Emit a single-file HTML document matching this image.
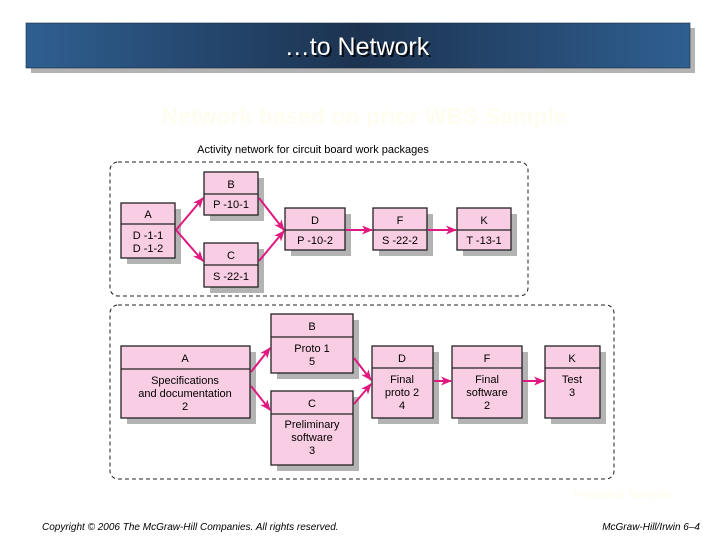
<!DOCTYPE html>
<html><head><meta charset="utf-8"><style>
body{margin:0;background:#fff;width:728px;height:546px;overflow:hidden;font-family:"Liberation Sans",sans-serif}
</style></head><body>
<svg width="728" height="546" viewBox="0 0 728 546" xmlns="http://www.w3.org/2000/svg" font-family="Liberation Sans, sans-serif">
<defs>
<linearGradient id="g" x1="0" x2="1" y1="0" y2="0">
<stop offset="0" stop-color="#2f5f91"/><stop offset="0.5" stop-color="#1c3350"/><stop offset="1" stop-color="#2f5f91"/>
</linearGradient>
<marker id="ar" markerWidth="11" markerHeight="9" refX="10" refY="4.5" orient="auto" markerUnits="userSpaceOnUse">
<path d="M0,0 L11,4.5 L0,9 L3,4.5 Z" fill="#e0187f"/></marker>
</defs>
<rect x="31" y="28" width="664" height="45" fill="#b3b3b3"/>
<rect x="26" y="23" width="664" height="45" fill="url(#g)" stroke="#1a2a40" stroke-width="0.6"/>
<text x="359" y="57" font-size="25" fill="#000" text-anchor="middle" opacity="0.8">…to Network</text>
<text x="357" y="55" font-size="25" fill="#fff" text-anchor="middle">…to Network</text>
<text x="364" y="124" font-size="23" font-weight="bold" fill="#fffdf0" text-anchor="middle">Network based on prior WBS Sample</text>
<text x="313" y="153" font-size="11" fill="#000" text-anchor="middle">Activity network for circuit board work packages</text>
<rect x="110" y="162" width="418" height="134" rx="8" fill="none" stroke="#222" stroke-dasharray="4,3"/>
<rect x="110" y="305" width="504" height="174" rx="8" fill="none" stroke="#222" stroke-dasharray="4,3"/>
<g fill="#b3b3b3">
<rect x="127" y="209" width="54" height="55"/><rect x="210" y="178" width="54" height="43"/><rect x="210" y="249" width="54" height="44"/>
<rect x="291" y="214" width="60" height="42"/><rect x="379" y="214" width="54" height="42"/><rect x="463" y="214" width="54" height="42"/>
<rect x="127" y="352" width="129" height="72"/><rect x="277" y="320" width="82" height="59"/><rect x="277" y="397" width="82" height="74"/>
<rect x="378" y="352" width="61" height="72"/><rect x="458" y="352" width="70" height="72"/><rect x="551" y="352" width="55" height="72"/>
</g>
<g fill="#f9cde3" stroke="#222" stroke-width="1.3">
<rect x="121" y="203" width="54" height="55"/><rect x="204" y="172" width="54" height="43"/><rect x="204" y="243" width="54" height="44"/>
<rect x="285" y="208" width="60" height="42"/><rect x="373" y="208" width="54" height="42"/><rect x="457" y="208" width="54" height="42"/>
<rect x="121" y="346" width="129" height="72"/><rect x="271" y="314" width="82" height="59"/><rect x="271" y="391" width="82" height="74"/>
<rect x="372" y="346" width="61" height="72"/><rect x="452" y="346" width="70" height="72"/><rect x="545" y="346" width="55" height="72"/>
</g>
<g stroke="#222" stroke-width="1.2">
<line x1="121" y1="224" x2="175" y2="224"/><line x1="204" y1="194" x2="258" y2="194"/><line x1="204" y1="265" x2="258" y2="265"/>
<line x1="285" y1="230" x2="345" y2="230"/><line x1="373" y1="230" x2="427" y2="230"/><line x1="457" y1="230" x2="511" y2="230"/>
<line x1="121" y1="369" x2="250" y2="369"/><line x1="271" y1="337" x2="353" y2="337"/><line x1="271" y1="414" x2="353" y2="414"/>
<line x1="372" y1="368" x2="433" y2="368"/><line x1="452" y1="368" x2="522" y2="368"/><line x1="545" y1="368" x2="600" y2="368"/>
</g>
<g stroke="#e0187f" stroke-width="2" fill="none" marker-end="url(#ar)">
<line x1="176" y1="230" x2="203" y2="198"/><line x1="176" y1="230" x2="203" y2="261"/>
<line x1="259" y1="198" x2="284" y2="230"/><line x1="259" y1="261" x2="284" y2="231"/>
<line x1="346" y1="230" x2="372" y2="230"/><line x1="428" y1="230" x2="456" y2="230"/>
<line x1="251" y1="372" x2="270" y2="348"/><line x1="251" y1="386" x2="270" y2="410"/>
<line x1="354" y1="358" x2="371" y2="380"/><line x1="354" y1="404" x2="371" y2="384"/>
<line x1="434" y1="381" x2="451" y2="381"/><line x1="523" y1="381" x2="544" y2="381"/>
</g>
<g font-size="11" fill="#000" text-anchor="middle">
<text x="148" y="218">A</text><text x="148" y="239">D -1-1</text><text x="148" y="252">D -1-2</text>
<text x="231" y="188">B</text><text x="231" y="208">P -10-1</text>
<text x="231" y="259">C</text><text x="231" y="280">S -22-1</text>
<text x="315" y="224">D</text><text x="315" y="244">P -10-2</text>
<text x="400" y="224">F</text><text x="400" y="244">S -22-2</text>
<text x="484" y="224">K</text><text x="484" y="244">T -13-1</text>
<text x="185" y="362">A</text><text x="185" y="384">Specifications</text><text x="185" y="397">and documentation</text><text x="185" y="410">2</text>
<text x="312" y="330">B</text><text x="312" y="352">Proto 1</text><text x="312" y="365">5</text>
<text x="312" y="407">C</text><text x="312" y="428">Preliminary</text><text x="312" y="441">software</text><text x="312" y="454">3</text>
<text x="402" y="362">D</text><text x="402" y="383">Final</text><text x="402" y="396">proto 2</text><text x="402" y="409">4</text>
<text x="487" y="362">F</text><text x="487" y="383">Final</text><text x="487" y="396">software</text><text x="487" y="409">2</text>
<text x="572" y="362">K</text><text x="572" y="383">Test</text><text x="572" y="396">3</text>
</g>
<text x="622" y="498" font-size="12" font-weight="bold" fill="#fffdf0" text-anchor="middle">Prepared Sample</text>
<text x="42" y="530" font-size="10" font-style="italic" fill="#000">Copyright © 2006 The McGraw-Hill Companies. All rights reserved.</text>
<text x="700" y="530" font-size="10" font-style="italic" fill="#000" text-anchor="end">McGraw-Hill/Irwin  6–4</text>
</svg>
</body></html>
